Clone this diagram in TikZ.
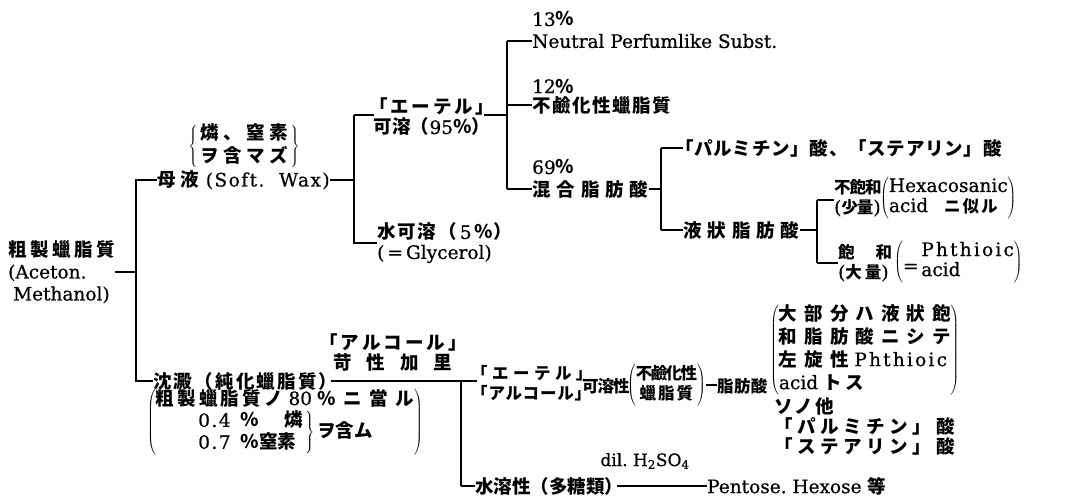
\documentclass[tikz,border=0pt]{standalone}
\usepackage{fontspec}
\setmainfont{DejaVu Serif}[FakeBold=0.6]
\newfontfamily\cjkfont{Noto Sans CJK JP}
\newcommand\J[2][0]{{\cjkfont\bfseries\addfontfeatures{LetterSpace=#1}#2}}
\newcommand\Js[2][0]{{\cjkfont\bfseries\fontsize{16.5}{20}\selectfont\addfontfeatures{LetterSpace=#1}#2}}
\newcommand\LS[2]{{\addfontfeatures{LetterSpace=#1}#2}}
\begin{document}
\begin{tikzpicture}[x=1pt,y=-1pt,
  every node/.style={inner sep=0pt,font=\fontsize{18.5}{20}\selectfont},
  tx/.style={anchor=west},
  ml/.style={anchor=west,align=left},
  mc/.style={align=center},
  ln/.style={line width=1.2pt}]
\fill[white] (0,0) rectangle (1070,501);
\useasboundingbox (0,0) rectangle (1070,501);
% root
\node[ml,font=\fontsize{18.5}{22}\selectfont] (root) at (8,272) {\J[19]{粗製蠟脂質}\\(Aceton.\\\hspace*{5pt}Methanol)};
\coordinate (b1t) at (136,180);
\coordinate (b1b) at (136,381);
\node[tx] (mot) at (157,180) {\J[25]{母液}\hspace{7pt}\LS{8}{(Soft.\ \ Wax)}};
\node (mb) at (244,146) {$\left\{\,\begin{tabular}{@{}c@{}}\J[24]{燐、窒素}\\\J[24]{ヲ含マズ}\end{tabular}\,\right\}$};
\node[tx] (prec) at (153,381) {\J[12]{沈澱（純化蠟脂質）}};
\draw[ln] (root.east) -- (root.east -| b1t);
\draw[ln] (mot.west) -- (b1t) -- (b1b) -- (prec.west);
% bracket 2
\coordinate (b2t) at (354,115);
\coordinate (b2b) at (354,243);
\draw[ln] (mot.east) -- (mot.east -| b2t);
\node[mc,anchor=west] (eth) at (369,117) {\J[15]{「エーテル」}\\\J[2]{可溶（}95\J{％）}};
\node[ml] (wat) at (377,243) {\J[10]{水可溶（}\,5\,\J[0]{％）}\\(\,=\,Glycerol)};
\draw[ln] (b2t) -- ([xshift=5pt]b2t -| eth.west);
\draw[ln] (b2t) -- (b2b) -- (b2b -| wat.west);
% bracket 3
\coordinate (b3t) at (507,41);
\coordinate (b3b) at (507,189);
\draw[ln] ([xshift=-10pt]eth.east |- b2t) -- (b2t -| b3t);
\draw[ln] (b3t) -- (b3b);
\node[tx] (p13) at (532,19) {13\J{％}};
\node[tx] (neu) at (532,41) {Neutral Perfumlike Subst.};
\node[tx] (p12) at (532,86) {12\J{％}};
\node[tx] (uns) at (532,105) {\J[8]{不鹼化性蠟脂質}};
\node[tx] (p69) at (532,167) {69\J{％}};
\node[tx] (mix) at (532,189) {\J[32]{混合脂肪酸}};
\draw[ln] (b3t) -- (b3t -| neu.west);
\draw[ln] (b3t |- uns.west) -- (uns.west);
\draw[ln] (b3b) -- (b3b -| mix.west);
% bracket 4
\coordinate (b4t) at (661,148);
\coordinate (b4b) at (661,230);
\draw[ln] (mix.east) -- (mix.east -| b4t);
\draw[ln] (b4t) -- (b4b);
\node[tx] (palm) at (675,148) {\J[4]{「パルミチン」酸、「ステアリン」酸}};
\draw[ln] (b4t) -- ([xshift=8pt]b4t -| palm.west);
\node[tx] (liq) at (683,230) {\J[32]{液狀脂肪酸}};
\draw[ln] (b4b) -- (b4b -| liq.west);
% bracket 5
\coordinate (b5t) at (817,200);
\coordinate (b5b) at (817,263);
\draw[ln] (liq.east) -- (liq.east -| b5t);
\draw[ln] (b5t) -- (b5b);
\node[ml] (unsat) at (834,198) {\Js[-6]{不飽和}\\(\Js[-6]{少量})};
\node[anchor=west] (hexa) at (880,198) {$\left(\begin{tabular}{@{}l@{}}Hexacosanic\\acid\hspace{16pt}\Js[12]{ニ似ル}\end{tabular}\right)$};
\draw[ln] (b5t) -- (b5t -| unsat.west);
\node[ml] (sat) at (838,263) {\Js{飽}\hspace{21pt}\Js{和}\\(\Js[18]{大量})};
\node[anchor=west] (phth) at (894,262) {$\left(\mbox{\raisebox{-6pt}{=}}\,\begin{tabular}{@{}l@{}}\LS{12}{Phthioic}\\acid\end{tabular}\right)$};
\draw[ln] (b5b) -- (b5b -| sat.west);
% lower part
\node[mc] (alc) at (393,352) {\J[17]{「アルコール」}\\\J{苛}\hspace{15pt}\J{性}\hspace{15pt}\J{加}\hspace{15pt}\J{里}};
\node[anchor=center] (pb) at (285,422) {$\left(\begin{tabular}{@{}c@{}}\J[17]{粗製蠟脂質ノ}\ 80\ \J[40]{％ニ當ル}\\$\left.\begin{tabular}{@{}l@{}}\LS{8}{0.4}\hspace{10pt}\J{％}\hspace{25pt}\J{燐}\\\LS{8}{0.7}\hspace{10pt}\J{％窒素}\end{tabular}\,\right\}$\,\J{ヲ含ム}\hspace{18pt}\end{tabular}\right)$};
\coordinate (b6t) at (461,381);
\coordinate (b6b) at (461,486);
\draw[ln] ([xshift=-7pt]prec.east) -- (prec.east -| b6t);
\draw[ln] (b6t) -- (b6b);
\node[ml] (eth2) at (471,383) {\Js[27]{「エーテル」}\\\Js[5]{「アルコール」}};
\draw[ln] (b6t) -- ([xshift=6pt]b6t -| eth2.west);
\node[tx] (ks) at (582,386) {\Js[-6]{可溶性}};
\node[anchor=west] (us2) at (627,385) {$\left(\begin{tabular}{@{}c@{}}\Js[-10]{不鹼化性}\\\Js{蠟}\hspace{2pt}\Js{脂}\hspace{2pt}\Js{質}\end{tabular}\right)$};
\node[tx] (fa) at (717,386) {\Js[2]{脂肪酸}};
\draw[ln] (us2.east) -- (us2.east -| fa.west);
\node[anchor=west,font=\fontsize{18.5}{23}\selectfont] (bp) at (770,350) {$\left(\begin{tabular}{@{}l@{}}\J[38]{大部分ハ液狀飽}\\\J[38]{和脂肪酸ニシテ}\\\J[38]{左旋性} \LS{12}{Phthioic}\\acid\ \J[15]{トス}\end{tabular}\right)$};
\node[ml] (etc) at (774,426) {\J[12]{ソノ他}\\\J[25]{「パルミチン」酸}\\\J[25]{「ステアリン」酸}};
\node[tx] (ws) at (475,486) {\J[0]{水溶性（多糖類）}};
\draw[ln] (b6b) -- (b6b -| ws.west);
\node[tx] (pen) at (707,486) {Pentose.\ Hexose \J{等}};
\draw[ln] ([xshift=-6pt]ws.east) -- (pen.west);
\node[font=\fontsize{17}{20}\selectfont] (dil) at (645,461) {dil.\ H\textsubscript{2}SO\textsubscript{4}};
\end{tikzpicture}
\end{document}
